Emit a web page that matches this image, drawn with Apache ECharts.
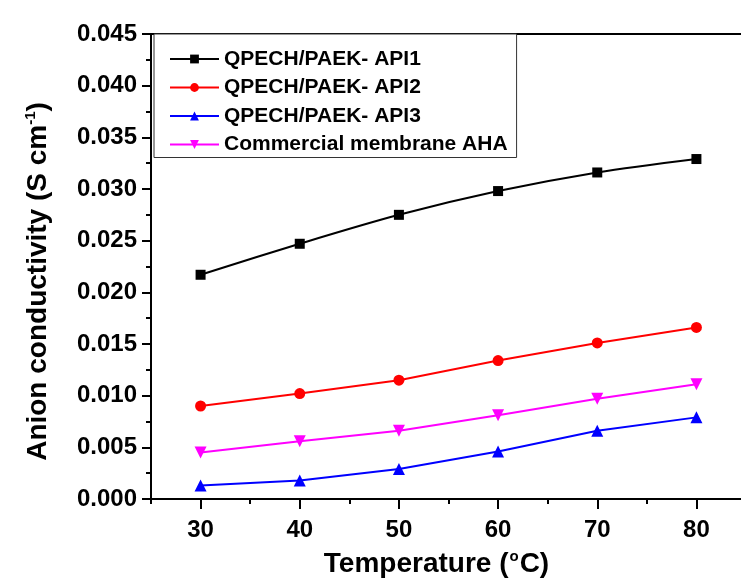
<!DOCTYPE html>
<html>
<head>
<meta charset="utf-8">
<script src="https://cdn.jsdelivr.net/npm/echarts@6/dist/echarts.min.js"></script>
<style>
html,body{margin:0;padding:0;background:#fff;}
#main{width:741px;height:579px;}
</style>
</head>
<body>
<div id="main"></div>
<script>
// 数据
var temps = [30, 40, 50, 60, 70, 80];
var api1 = [0.0217, 0.0247, 0.0275, 0.0298, 0.0316, 0.0329];
var api2 = [0.0090, 0.0102, 0.0115, 0.0134, 0.0151, 0.0166];
var api3 = [0.0013, 0.0018, 0.0029, 0.0046, 0.0066, 0.0079];
var aha = [0.0045, 0.0056, 0.0066, 0.0081, 0.0097, 0.0111];
var names = ['QPECH/PAEK- API1', 'QPECH/PAEK- API2', 'QPECH/PAEK- API3', 'Commercial membrane AHA'];
var yTicks = [0, 0.045, 0.005];

function pairs(ys) {
	var out = [];
	for (var i = 0; i < temps.length; i++) {
		out.push([temps[i], ys[i]]);
	}
	return out;
}

var font = 'Arial, "Liberation Sans", sans-serif';
var myChart = echarts.init(document.getElementById('main'));

function mkSeries(name, ys, color, symbol, size, rotate, smooth) {
	return {
		name: name,
		type: 'line',
		data: pairs(ys),
		smooth: smooth,
		symbol: symbol,
		symbolSize: size,
		symbolRotate: rotate,
		itemStyle: {color: color},
		lineStyle: {color: color, width: 2},
		z: 3
	};
}

myChart.setOption({
	backgroundColor: '#fff',
	animation: false,
	grid: {left: 151, top: 34, right: -5, bottom: 80, outerBoundsMode: 'none', containLabel: false},
	legend: {
		left: 154,
		top: 34,
		orient: 'vertical',
		itemWidth: 49,
		itemHeight: 11,
		itemGap: 6.5,
		padding: [14, 9, 2, 15],
		borderColor: '#333',
		borderWidth: 1,
		backgroundColor: '#fff',
		textStyle: {fontFamily: font, fontWeight: 'bold', fontSize: 21, lineHeight: 22, color: '#000'},
		data: names
	},
	xAxis: [{
		type: 'value',
		min: 25,
		max: 85,
		position: 'bottom',
		axisTick: {show: true, inside: false, length: 10, lineStyle: {color: '#000', width: 2}, customValues: temps},
		axisLabel: {customValues: temps, margin: 19, fontFamily: font, fontWeight: 'bold', fontSize: 24, color: '#000'},
		axisLine: {lineStyle: {color: '#000', width: 2}},
		splitLine: {show: false},
		name: '{a|Temperature (}{s|o}{a|C)}',
		nameLocation: 'middle',
		nameGap: 50,
		nameTextStyle: {
			padding: [0, 24, 0, 0],
			rich: {
				a: {fontFamily: font, fontWeight: 'bold', fontSize: 28, color: '#000'},
				s: {fontFamily: font, fontWeight: 'bold', fontSize: 15, color: '#000', padding: [0, 1, 16, 1]}
			}
		}
	}, {
		type: 'value',
		min: 25,
		max: 85,
		interval: 5,
		position: 'bottom',
		axisLine: {show: false},
		axisTick: {length: 5, lineStyle: {color: '#000', width: 2}},
		axisLabel: {show: false},
		splitLine: {show: false}
	}, {
		type: 'value',
		min: 25,
		max: 85,
		position: 'top',
		axisLine: {lineStyle: {color: '#000', width: 2}},
		axisTick: {show: false},
		axisLabel: {show: false},
		splitLine: {show: false}
	}],
	yAxis: {
		type: 'value',
		min: yTicks[0],
		max: yTicks[1],
		interval: yTicks[2],
		axisLine: {show: true, lineStyle: {color: '#000', width: 2}},
		axisTick: {show: true, length: 9, lineStyle: {color: '#000', width: 2}},
		minorTick: {show: true, splitNumber: 2, length: 5, lineStyle: {color: '#000', width: 2}},
		axisLabel: {
			margin: 14,
			fontFamily: font, fontWeight: 'bold', fontSize: 24, color: '#000',
			formatter: function(v) { return v.toFixed(3); }
		},
		splitLine: {show: false},
		name: '{a|Anion conductivity (S cm}{s|-1}{a|)}',
		nameLocation: 'middle',
		nameGap: 97,
		nameTextStyle: {
			padding: [0, 30, 0, 0],
			rich: {
				a: {fontFamily: font, fontWeight: 'bold', fontSize: 28, color: '#000'},
				s: {fontFamily: font, fontWeight: 'bold', fontSize: 15, color: '#000', padding: [0, 0, 16, 0]}
			}
		}
	},
	series: [
		mkSeries(names[0], api1, '#000000', 'rect', 10, 0, 0.3),
		mkSeries(names[1], api2, '#ff0000', 'circle', 11, 0, false),
		mkSeries(names[2], api3, '#0000ff', 'triangle', 12, 0, false),
		mkSeries(names[3], aha, '#ff00ff', 'triangle', 12, 180, false)
	]
});
</script>
</body>
</html>
